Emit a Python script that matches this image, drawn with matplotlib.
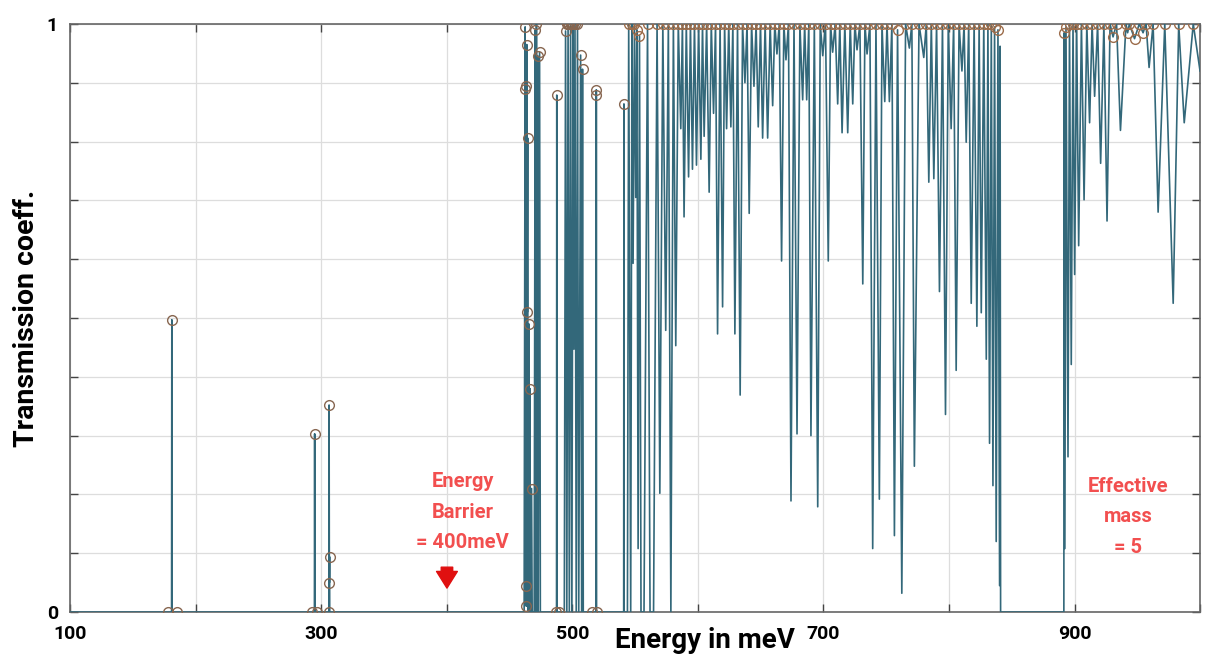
import numpy as np
import matplotlib
matplotlib.use("Agg")
import matplotlib.pyplot as plt
from matplotlib.patches import FancyArrowPatch

# low-energy part + sparse resonances (meV, transmission)
low_E = [100, 180.6, 180.8, 181.0, 294.4, 294.6, 294.8, 305.9, 306.1, 306.3, 306.45, 306.6,
         461.5, 462.3, 462.6, 462.9, 463.2, 463.6, 464.0, 464.3, 464.7, 465.2, 465.6, 466.1,
         466.5, 467.4, 467.9, 469.5, 470.3, 470.8, 471.3, 471.8, 472.2, 472.7, 473.8, 474.4,
         487.3, 487.5, 487.7, 493.5, 494.5, 495.5, 496.5, 497.5, 498.5, 499.5, 500.5, 501.2,
         502.0, 503.0, 504.0, 505.0, 506.5, 507.3, 508.0, 508.6, 518.8, 519.0, 519.2,
         540.8, 541.0, 541.2, 543.8]
low_T = [0, 0, 0.497, 0, 0, 0.303, 0, 0, 0.352, 0.05, 0.094, 0,
         0, 0.995, 0.045, 0.894, 0.01, 0.965, 0.51, 0.806, 0.0, 0.49, 0.0, 0.38,
         0.0, 0.21, 0.0, 0, 0.99, 0, 1.0, 0, 0.946, 0, 0.952, 0,
         0, 0.879, 0, 0, 0.988, 0, 1.0, 0, 1.0, 0, 1.0, 0.447,
         1.0, 0, 1.0, 0, 0.947, 0, 0.923, 0, 0, 0.888, 0,
         0, 0.864, 0, 0]

# first dense band
bandA_E = [544.8, 546.4, 547.4, 548.3, 549.4, 550.4, 551.3, 552.3, 553.4, 554.6, 557.0, 559.8,
           561.8, 564.6, 567.4, 569.6, 572.0, 574.3, 576.4, 578.4, 580.4, 582.3, 584.3, 586.3,
           587.6, 588.9, 590.7, 592.5, 594.0, 595.6, 597.2, 598.8, 600.5, 602.3, 603.6, 604.9,
           606.9, 608.9, 610.6, 612.4, 614.0, 615.6, 617.6, 619.6, 621.2, 622.8, 624.5, 626.2,
           627.8, 629.4, 631.5, 633.6, 635.5, 637.4, 639.1, 640.8, 642.7, 644.6, 646.3, 648.0,
           649.8, 651.5, 653.5, 655.5, 657.5, 659.5, 661.2, 662.9, 664.8, 666.6, 668.4, 670.1,
           672.1, 674.1, 676.5, 678.9, 681.2, 683.4, 685.0, 686.6, 688.3, 690.0, 692.7, 695.4,
           697.4, 699.4, 701.6, 703.8, 705.6, 707.3, 709.3, 711.3, 713.0, 714.8, 717.0, 719.3,
           721.3, 723.3, 725.0, 726.7, 729.0, 731.3, 733.0, 734.7, 737.0, 739.2, 741.8, 744.5,
           746.6, 748.8, 750.6, 752.5, 754.5, 756.5, 759.0, 762.4, 765.4, 768.4, 770.4, 772.4,
           776.1, 779.9, 781.9, 783.9, 785.9, 787.9, 790.1, 792.4, 794.8, 797.2, 799.4, 801.7,
           803.7, 805.7, 808.0, 810.3, 812.0, 813.7, 815.7, 817.7, 820.0, 822.2, 824.0, 825.7,
           827.7, 829.7, 831.0, 832.3, 833.7, 835.0, 836.3, 837.6, 839.0, 840.3, 840.7, 841.1]
bandA_T = [1.0, 0.0, 1.0, 0.593, 1.0, 0.705, 0.99, 0.108, 0.98, 0.0, 0.0, 1.0,
           0.0, 0.0, 1.0, 0.202, 1.0, 0.479, 1.0, 0.0, 1.0, 0.453, 1.0, 0.822,
           1.0, 0.672, 1.0, 0.74, 1.0, 0.753, 1.0, 0.76, 1.0, 0.77, 1.0, 0.809,
           1.0, 0.714, 1.0, 0.848, 1.0, 0.473, 1.0, 0.519, 1.0, 0.822, 1.0, 0.825,
           1.0, 0.473, 1.0, 0.369, 1.0, 0.9, 1.0, 0.678, 1.0, 0.894, 1.0, 0.825,
           1.0, 0.806, 1.0, 0.806, 1.0, 0.861, 1.0, 0.949, 1.0, 0.597, 1.0, 0.939,
           1.0, 0.189, 1.0, 0.303, 1.0, 0.871, 1.0, 0.871, 1.0, 0.3, 1.0, 0.179,
           1.0, 0.946, 1.0, 0.597, 1.0, 0.952, 1.0, 0.864, 1.0, 0.815, 1.0, 0.815,
           1.0, 0.864, 1.0, 0.956, 1.0, 0.558, 1.0, 0.949, 1.0, 0.108, 1.0, 0.192,
           1.0, 0.868, 1.0, 0.868, 1.0, 0.13, 0.99, 0.032, 1.0, 0.959, 1.0, 0.248,
           1.0, 0.943, 1.0, 0.731, 1.0, 0.737, 1.0, 0.545, 1.0, 0.336, 1.0, 0.822,
           1.0, 0.411, 1.0, 0.92, 1.0, 0.799, 1.0, 0.525, 1.0, 0.486, 1.0, 0.509,
           1.0, 0.43, 1.0, 0.287, 1.0, 0.215, 0.995, 0.12, 0.99, 0.045, 0.962, 0.0]

# second band (above 890 meV)
bandB_E = [891.5, 891.8, 892.3, 893.2, 894.8, 896.0, 897.4, 898.8, 900.1, 901.7, 903.3, 905.5,
           907.6, 909.8, 912.0, 914.0, 916.0, 918.4, 920.8, 923.4, 925.9, 928.3, 930.7, 933.5,
           936.6, 941.0, 942.3, 943.7, 947.8, 951.6, 954.6, 957.0, 959.4, 962.6, 966.6, 971.9,
           978.6, 983.0, 987.4, 994.6, 1000.0]
bandB_T = [0.0, 0.985, 0.108, 0.995, 0.264, 1.0, 0.421, 1.0, 0.574, 1.0, 0.623, 1.0,
           0.701, 1.0, 0.832, 1.0, 0.877, 1.0, 0.763, 1.0, 0.665, 1.0, 0.978, 1.0,
           0.819, 1.0, 0.985, 1.0, 0.975, 1.0, 0.985, 1.0, 0.926, 1.0, 0.68, 1.0,
           0.525, 1.0, 0.832, 1.0, 0.92]

# extra circle markers in the sparse region
mark_E = [177.6, 180.8, 185.3, 292.5, 294.6, 296.5, 306.1, 306.1, 306.3, 306.45,
          462.3, 462.5, 462.6, 462.9, 463.2, 463.6, 464.0, 464.3, 465.2, 466.1, 467.4,
          470.3, 471.3, 472.2, 473.8, 486.6, 487.5, 489.2, 494.5, 495.7, 496.5, 497.3,
          498.5, 499.3, 500.5, 502.0, 504.0, 506.5, 508.0, 515.9, 519.0, 519.0, 519.9, 541.0]
mark_T = [0, 0.497, 0, 0, 0.303, 0, 0, 0.352, 0.05, 0.094,
          0.995, 0.89, 0.045, 0.894, 0.01, 0.965, 0.51, 0.806, 0.49, 0.38, 0.21,
          0.99, 1.0, 0.946, 0.952, 0, 0.879, 0, 0.988, 1.0, 1.0, 1.0,
          1.0, 1.0, 1.0, 1.0, 1.0, 0.947, 0.923, 0, 0.888, 0.879, 0, 0.864]

energy = np.array(low_E + bandA_E + [845.0, 888.0] + bandB_E)
trans = np.array(low_T + bandA_T + [0.0, 0.0] + bandB_T)

fig = plt.figure(figsize=(12.14, 6.56), dpi=100)
ax = fig.add_axes([0.058, 0.067, 0.9305, 0.8965])

line_col = '#33687a'
ax.plot(energy, trans, color=line_col, lw=1.2, zorder=3)

peaks = (trans >= 0.97) & (energy > 540)
ax.plot(energy[peaks], trans[peaks], 'o', mfc='none', mec='#9c6c4a', ms=7, mew=1.0, zorder=4)
ax.plot(mark_E, mark_T, 'o', mfc='none', mec='#876650', ms=7, mew=1.0, zorder=4)

ax.set_xlim(100, 1000)
ax.set_ylim(0, 1)
ax.set_xticks(np.arange(100, 1001, 100))
ax.set_xticklabels(['100', '', '300', '', '500', '', '700', '', '900', ''])
ax.set_yticks(np.arange(0, 1.01, 0.1))
ax.set_yticklabels(['0'] + [''] * 9 + ['1'])
ax.grid(True, color='#dddddd', lw=0.9)
ax.set_axisbelow(True)
ax.tick_params(direction='in', length=6, width=1, color='#444444', top=True, right=True,
               labelsize=14, pad=9)
for lab in ax.get_xticklabels() + ax.get_yticklabels():
    lab.set_fontweight('bold')
    lab.set_family('Roboto')
for s in ax.spines.values():
    s.set_color('#666666')
    s.set_linewidth(1.2)

ax.set_xlabel('Energy in meV', fontsize=20, fontweight='bold', family='Roboto')
ax.xaxis.set_label_coords(0.562, -0.025)
ax.set_ylabel('Transmission coeff.', fontsize=20.5, fontweight='bold', family='Roboto')
ax.yaxis.set_label_coords(-0.027, 0.5)

red = '#f24f4f'
ax.text(412.5, 0.17, 'Energy\nBarrier\n= 400meV', color=red, fontsize=14.5, fontweight='bold',
        family='Roboto', ha='center', va='center', linespacing=1.75)
ax.text(942.5, 0.162, 'Effective\nmass\n= 5', color=red, fontsize=14.5,
        fontweight='bold', family='Roboto', ha='center', va='center', linespacing=1.75)
arr = FancyArrowPatch((400, 0.081), (400, 0.036),
                      arrowstyle='simple,head_width=1.0,head_length=0.8,tail_width=0.55',
                      mutation_scale=15, color='#e01010', zorder=5)
ax.add_patch(arr)

fig.savefig('out.png', dpi=100)
